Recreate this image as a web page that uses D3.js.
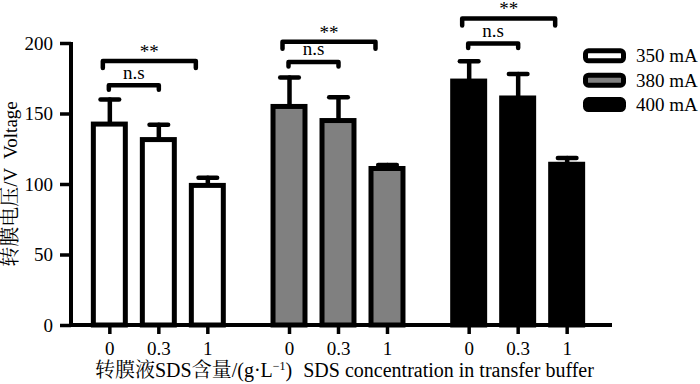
<!DOCTYPE html>
<html>
<head>
<meta charset="utf-8">
<script src="https://cdn.jsdelivr.net/npm/d3@7"></script>
<style>
  html, body { margin: 0; padding: 0; background: #ffffff; }
  svg { display: block; }
  svg text { font-family: "Liberation Serif", "Times New Roman", Times, serif; }
  svg text tspan.cjk { font-family: "Noto Serif CJK SC", "Noto Sans CJK SC", serif; }
</style>
</head>
<body>
<script>
// ---------------- data ----------------
const groups = ["350 mA", "380 mA", "400 mA"];
const concentrations = ["0", "0.3", "1"];
const mean350 = [142.5, 131.5, 99];
const err350  = [17.5, 10.5, 5.5];
const mean380 = [155, 145, 111];
const err380  = [20.5, 16.5, 2.5];
const mean400 = [173, 161, 114];
const err400  = [14, 17, 4.5];
const groupFills = ["#ffffff", "#808080", "#000000"];
const yTicks = [0, 50, 100, 150, 200];
const sigLabels = ["**", "n.s"];
const wideBracketY = [187.3, 200.8, 217.4];   // "**" : 0 vs 1
const narrowBracketY = [170.1, 186.6, 199.6]; // "n.s": 0 vs 0.3

const means = [mean350, mean380, mean400];
const errs = [err350, err380, err400];

const W = 700, H = 384;
const svg = d3.select("body").append("svg")
  .attr("width", W).attr("height", H);

// ---------------- scales ----------------
const x0 = d3.scaleBand().domain(groups).range([69, 608]).padding(0);
const x1 = d3.scaleBand().domain(concentrations)
  .range([0, x0.bandwidth()]).paddingInner(0.327).paddingOuter(0.497);
const y = d3.scaleLinear().domain([0, 200]).range([325, 43]);
const bw = x1.bandwidth();
const cx = (g, c) => x0(g) + x1(c) + bw / 2;

// ---------------- bars ----------------
const barData = [];
groups.forEach((g, gi) => concentrations.forEach((c, ci) => {
  barData.push({ g, gi, c, v: means[gi][ci], e: errs[gi][ci] });
}));

const eb = svg.append("g").attr("stroke", "#000").attr("stroke-width", 4.5)
  .attr("stroke-linecap", "round");
eb.selectAll("line.v").data(barData).join("line").attr("class", "v")
  .attr("x1", d => cx(d.g, d.c)).attr("x2", d => cx(d.g, d.c))
  .attr("y1", d => y(d.v)).attr("y2", d => y(d.v + d.e));
eb.selectAll("line.cap").data(barData).join("line").attr("class", "cap")
  .attr("x1", d => cx(d.g, d.c) - 9.3).attr("x2", d => cx(d.g, d.c) + 9.3)
  .attr("y1", d => y(d.v + d.e)).attr("y2", d => y(d.v + d.e));

svg.append("g").selectAll("rect").data(barData).join("rect")
  .attr("x", d => x0(d.g) + x1(d.c))
  .attr("y", d => y(d.v))
  .attr("width", bw - 1)
  .attr("height", d => y(0) - y(d.v))
  .attr("fill", d => groupFills[d.gi])
  .attr("stroke", "#000").attr("stroke-width", 5);

// ---------------- axes ----------------
const yAxis = svg.append("g").attr("transform", "translate(71,0)")
  .call(d3.axisLeft(y).tickValues(yTicks).tickSize(11).tickSizeOuter(0).tickPadding(7));
yAxis.attr("font-family", null).attr("font-size", null);
yAxis.select(".domain").attr("stroke-width", 4).attr("d", `M0,${y(0) + 2}V${y(200) - 1}`);
yAxis.selectAll(".tick line").attr("stroke-width", 3.5);
yAxis.selectAll(".tick text").style("font-size", "19px").attr("fill", "#000");

groups.forEach(g => {
  const ax = svg.append("g").attr("transform", `translate(${x0(g)},${y(0)})`)
    .call(d3.axisBottom(x1).tickSize(9).tickPadding(7.5));
  ax.attr("font-family", null).attr("font-size", null);
  ax.select(".domain").remove();
  ax.selectAll(".tick line").attr("stroke-width", 3.5);
  ax.selectAll(".tick text").style("font-size", "19px").attr("fill", "#000");
});
svg.append("line")
  .attr("x1", x0.range()[0]).attr("x2", x0.range()[1] + 4)
  .attr("y1", y(0)).attr("y2", y(0))
  .attr("stroke", "#000").attr("stroke-width", 4);

// ---------------- significance brackets ----------------
const br = svg.append("g");
groups.forEach((g, gi) => {
  const specs = [
    { label: sigLabels[0], xl: cx(g, "0") - 7, xr: cx(g, "1") - 12, yv: y(wideBracketY[gi]), drop: 7, base: 3 },
    { label: sigLabels[1], xl: cx(g, "0") - 1, xr: cx(g, "0.3"), yv: y(narrowBracketY[gi]), drop: 4.5, base: 6.5 }
  ];
  specs.forEach(s => {
    br.append("path")
      .attr("d", `M${s.xl},${s.yv + s.drop}V${s.yv}H${s.xr}V${s.yv + s.drop}`)
      .attr("fill", "none").attr("stroke", "#000").attr("stroke-width", 4.5)
      .attr("stroke-linecap", "round").attr("stroke-linejoin", "round");
    br.append("text")
      .attr("x", (s.xl + s.xr) / 2).attr("y", s.yv - s.base)
      .attr("text-anchor", "middle").style("font-size", "19px")
      .text(s.label);
  });
});

// ---------------- legend ----------------
const lg = svg.append("g");
groups.forEach((g, gi) => {
  const yy = 55.8 + gi * 24.4;
  lg.append("rect").attr("x", 585.5).attr("y", yy - 5).attr("width", 38).attr("height", 10)
    .attr("rx", 3).attr("fill", groupFills[gi]).attr("stroke", "#000").attr("stroke-width", 5);
  lg.append("text").attr("x", 636).attr("y", yy + 6.5).style("font-size", "19px").text(g);
});

// ---------------- axis titles ----------------
const yt = svg.append("text").attr("transform", "translate(17,184) rotate(-90)")
  .attr("text-anchor", "middle").style("font-size", "19px");
yt.append("tspan").attr("class", "cjk").style("font-size", "20px").text("转膜电压");
yt.append("tspan").style("white-space", "pre").text("/V  Voltage");

const xt = svg.append("text").attr("x", 95).attr("y", 377).style("font-size", "20px");
xt.append("tspan").attr("class", "cjk").text("转膜液");
xt.append("tspan").text("SDS");
xt.append("tspan").attr("class", "cjk").text("含量");
xt.append("tspan").text("/(g·L");
xt.append("tspan").style("font-size", "12px").attr("dy", -7).text("−1");
xt.append("tspan").attr("dy", 7).text(")");
xt.append("tspan").attr("dx", 11).text("SDS concentration in transfer buffer");
</script>
</body>
</html>
